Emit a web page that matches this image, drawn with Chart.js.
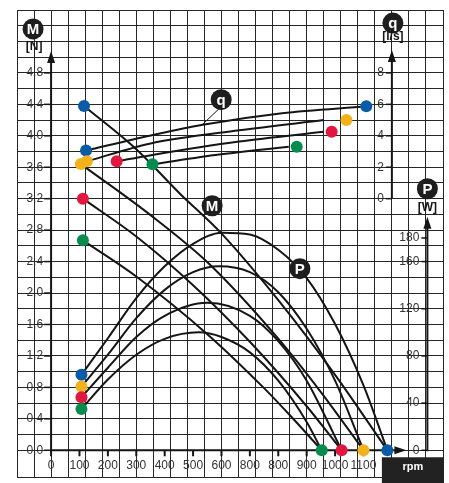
<!DOCTYPE html>
<html>
<head>
<meta charset="utf-8">
<script src="https://cdn.jsdelivr.net/npm/chart.js@4.4.1/dist/chart.umd.min.js"></script>
<style>
  html, body { margin: 0; padding: 0; background: #fff; }
</style>
</head>
<body>
<canvas id="myChart" width="449" height="483"></canvas>
<script>
// torque M [N] against speed [rpm]
const torqueBlue = [[116, 4.38], [300, 3.83], [452, 3.27], [602, 2.75], [800, 1.91], [1000, 0.96], [1184, 0]];
const torqueYellow = [[105, 3.64], [347, 3.0], [557, 2.37], [800, 1.42], [950, 0.74], [1100, 0]];
const torqueRed = [[112, 3.2], [300, 2.72], [500, 2.1], [700, 1.38], [900, 0.56], [1023, 0]];
const torqueGreen = [[112, 2.67], [300, 2.21], [557, 1.455], [750, 0.79], [850, 0.41], [953, 0]];

// flow q [l/s]
const flowBlue = [[123, 3.06], [347, 4.0], [529, 4.69], [813, 5.44], [1110, 5.875]];
const flowYellow = [[126, 2.375], [347, 3.5], [662, 4.35], [960, 5.0]];
const flowRed = [[231, 2.375], [347, 2.75], [662, 3.63], [960, 4.25]];
const flowGreen = [[357, 2.19], [592, 2.81], [837, 3.31]];

// power P [W]
const powerBlue = [[107, 64], [200, 95], [300, 129], [400, 156], [500, 175], [602, 184.5], [700, 183], [800, 170], [900, 146], [1000, 107], [1100, 55], [1184, 0]];
const powerYellow = [[107, 54], [200, 81], [300, 112], [400, 136], [500, 151], [590, 156], [700, 151], [800, 134], [900, 103], [1000, 59], [1100, 0]];
const powerRed = [[107, 45], [200, 70], [300, 96], [400, 114], [550, 125], [700, 114], [800, 92.5], [900, 59], [1023, 0]];
const powerGreen = [[107, 35], [200, 60], [300, 81], [400, 94.5], [520, 100], [600, 96], [700, 83], [800, 59], [900, 24], [953, 0]];

// marker dots
const dotsM = [[116, 4.38], [105, 3.64], [112, 3.2], [112, 2.67]];
const dotsQ = [[123, 3.06], [126, 2.375], [231, 2.375], [357, 2.19], [1110, 5.875], [1040, 5.0], [988, 4.25], [865, 3.31]];
const dotsP = [[107, 64], [107, 54], [107, 45], [107, 35], [1184, 0], [1100, 0], [1023, 0], [953, 0]];
const dotColorsM = ['#0a5ca6', '#f3b21c', '#e1173f', '#078c4d'];
const dotColorsQ = ['#0a5ca6', '#f3b21c', '#e1173f', '#078c4d', '#0a5ca6', '#f3b21c', '#e1173f', '#078c4d'];
const dotColorsP = dotColorsQ;

// axis ticks
const xTickValues = [0, 100, 200, 300, 400, 500, 600, 700, 800, 900, 1000, 1100];
const xTickLabels = ['0', '100', '200', '300', '400', '500', '600', '800', '800', '900', '1000', '1100'];
const mTicks = [0, 0.4, 0.8, 1.2, 1.6, 2.0, 2.4, 2.8, 3.2, 3.6, 4.0, 4.4, 4.8];
const qTicks = [0, 2, 4, 6, 8];
const pTicks = [0, 40, 80, 120, 160, 180];

const FONT = '"Liberation Sans", Arial, sans-serif';
const INK = '#151515';

const pts = arr => arr.map(p => ({x: p[0], y: p[1]}));

function curve(data, axis) {
    return {
        type: 'line',
        data: pts(data),
        yAxisID: axis,
        borderColor: INK,
        borderWidth: 2,
        pointRadius: 0,
        cubicInterpolationMode: 'monotone',
        order: 2
    };
}

function dots(data, axis, colors) {
    return {
        type: 'line',
        data: pts(data),
        yAxisID: axis,
        showLine: false,
        pointRadius: 6,
        pointBorderWidth: 0,
        pointBackgroundColor: colors,
        order: 1
    };
}

function vArrow(ctx, x, yFrom, yTip) {
    ctx.beginPath();
    ctx.moveTo(x, yFrom);
    ctx.lineTo(x, yTip + 8);
    ctx.stroke();
    ctx.beginPath();
    ctx.moveTo(x, yTip);
    ctx.lineTo(x - 4, yTip + 12);
    ctx.lineTo(x + 4, yTip + 12);
    ctx.closePath();
    ctx.fill();
}

function hArrow(ctx, xFrom, y, xTip) {
    ctx.beginPath();
    ctx.moveTo(xFrom, y);
    ctx.lineTo(xTip - 8, y);
    ctx.stroke();
    ctx.beginPath();
    ctx.moveTo(xTip, y);
    ctx.lineTo(xTip - 12, y - 4);
    ctx.lineTo(xTip - 12, y + 4);
    ctx.closePath();
    ctx.fill();
}

function badge(ctx, cx, cy, letter) {
    ctx.beginPath();
    ctx.arc(cx, cy, 10.5, 0, Math.PI * 2);
    ctx.fillStyle = '#1e1e1e';
    ctx.fill();
    ctx.fillStyle = '#fff';
    ctx.font = 'bold 15px ' + FONT;
    ctx.textAlign = 'center';
    ctx.textBaseline = 'middle';
    ctx.fillText(letter, cx, cy + 1);
}

function unitText(ctx, txt, x, y) {
    ctx.fillStyle = INK;
    ctx.font = 'bold 12px ' + FONT;
    ctx.textAlign = 'center';
    ctx.textBaseline = 'middle';
    ctx.fillText(txt, x, y);
}

const axesPlugin = {
    id: 'pumpAxes',
    beforeDatasetsDraw(chart) {
        const {ctx, scales: {x, yM, yQ, yP}} = chart;
        const x0 = x.getPixelForValue(0);
        const y0 = yM.getPixelForValue(0);
        const xq = x.getPixelForValue(1200);
        const xp = x.getPixelForValue(1325);
        ctx.save();
        ctx.strokeStyle = INK;
        ctx.fillStyle = INK;
        ctx.lineWidth = 2;
        vArrow(ctx, x0, y0 + 1, yM.getPixelForValue(5.08));
        hArrow(ctx, x0 - 1, y0, x.getPixelForValue(1251));
        vArrow(ctx, xq, yQ.getPixelForValue(0), yQ.getPixelForValue(9.45));
        vArrow(ctx, xp, y0 + 1, yP.getPixelForValue(198));

        ctx.font = '12px ' + FONT;
        ctx.textBaseline = 'middle';
        // M ticks
        ctx.textAlign = 'right';
        mTicks.forEach(v => {
            const y = yM.getPixelForValue(v);
            ctx.fillRect(x0 - 7, y - 0.75, 7, 1.5);
            ctx.fillStyle = '#333';
            ctx.fillText(v.toFixed(1).replace('.', ','), x0 - 8, y);
            ctx.fillStyle = INK;
        });
        qTicks.forEach(v => {
            const y = yQ.getPixelForValue(v);
            ctx.fillRect(xq - 6, y - 0.75, 6, 1.5);
            ctx.fillStyle = '#333';
            ctx.fillText(String(v), xq - 8, y);
            ctx.fillStyle = INK;
        });
        pTicks.forEach(v => {
            const y = yP.getPixelForValue(v);
            ctx.fillRect(xp - 6, y - 0.75, 6, 1.5);
            ctx.fillStyle = '#333';
            ctx.fillText(String(v), xp - 8, y);
            ctx.fillStyle = INK;
        });
        // rpm ticks
        ctx.textAlign = 'center';
        xTickValues.forEach((v, i) => {
            const px = x.getPixelForValue(v);
            ctx.fillRect(px - 1, y0, 2, 6);
            ctx.fillStyle = '#333';
            ctx.fillText(xTickLabels[i], px, y0 + 15);
            ctx.fillStyle = INK;
        });
        ctx.restore();
    },
    afterDatasetsDraw(chart) {
        const {ctx, chartArea, scales: {x, yM, yQ, yP}} = chart;
        const x0 = x.getPixelForValue(0);
        const y0 = yM.getPixelForValue(0);
        const xq = x.getPixelForValue(1200);
        const xp = x.getPixelForValue(1325);
        const mTop = yM.getPixelForValue(5.08);
        const qTop = yQ.getPixelForValue(9.45);
        const pTop = yP.getPixelForValue(198);
        ctx.save();
        // axis names
        badge(ctx, x0 - 18, mTop - 22, 'M');
        unitText(ctx, '[N]', x0 - 17, mTop - 4);
        badge(ctx, xq + 1, qTop - 27, 'q');
        unitText(ctx, '[l/s]', xq + 1, qTop - 13);
        badge(ctx, xp, pTop - 28, 'P');
        unitText(ctx, '[W]', xp, pTop - 9);

        // curve labels
        const qx = x.getPixelForValue(599), qy = yM.getPixelForValue(4.46);
        ctx.strokeStyle = INK;
        ctx.lineWidth = 1;
        ctx.beginPath();
        ctx.moveTo(qx - 2, qy + 9);
        ctx.lineTo(qx - 20, qy + 26);
        ctx.stroke();
        badge(ctx, qx, qy, 'q');
        badge(ctx, x.getPixelForValue(567), yM.getPixelForValue(3.11), 'M');
        badge(ctx, x.getPixelForValue(876), yM.getPixelForValue(2.31), 'P');

        // rpm box
        ctx.fillStyle = '#222';
        ctx.fillRect(xq - 10, y0 + 7, chartArea.right + 1 - (xq - 10), chart.height - (y0 + 7));
        ctx.fillStyle = '#fff';
        ctx.font = 'bold 11px ' + FONT;
        ctx.textAlign = 'center';
        ctx.textBaseline = 'middle';
        ctx.fillText('rpm', (xq - 10 + chartArea.right + 1) / 2, y0 + 17);
        ctx.restore();
    }
};

const gridLine = {color: '#262626', lineWidth: 1, drawTicks: false};

new Chart(document.getElementById('myChart'), {
    type: 'line',
    data: {
        datasets: [
            dots(dotsM, 'yM', dotColorsM),
            dots(dotsQ, 'yQ', dotColorsQ),
            dots(dotsP, 'yP', dotColorsP),
            curve(torqueBlue, 'yM'),
            curve(torqueYellow, 'yM'),
            curve(torqueRed, 'yM'),
            curve(torqueGreen, 'yM'),
            curve(flowBlue, 'yQ'),
            curve(flowYellow, 'yQ'),
            curve(flowRed, 'yQ'),
            curve(flowGreen, 'yQ'),
            curve(powerBlue, 'yP'),
            curve(powerYellow, 'yP'),
            curve(powerRed, 'yP'),
            curve(powerGreen, 'yP')
        ]
    },
    options: {
        responsive: false,
        animation: false,
        layout: {padding: {left: 17, right: 4, top: 10, bottom: 0}},
        plugins: {legend: {display: false}, tooltip: {enabled: false}},
        scales: {
            x: {
                type: 'linear', min: -120, max: 1380,
                ticks: {display: false, stepSize: 60, autoSkip: false},
                grid: gridLine,
                border: {display: false}
            },
            yM: {
                type: 'linear', position: 'left', min: -0.34, max: 5.6,
                ticks: {display: false, stepSize: 0.2},
                grid: gridLine,
                border: {display: false}
            },
            yQ: {type: 'linear', display: false, min: -17.7, max: 12},
            yP: {type: 'linear', display: false, min: -22.667, max: 373.33}
        }
    },
    plugins: [axesPlugin]
});
</script>
</body>
</html>
